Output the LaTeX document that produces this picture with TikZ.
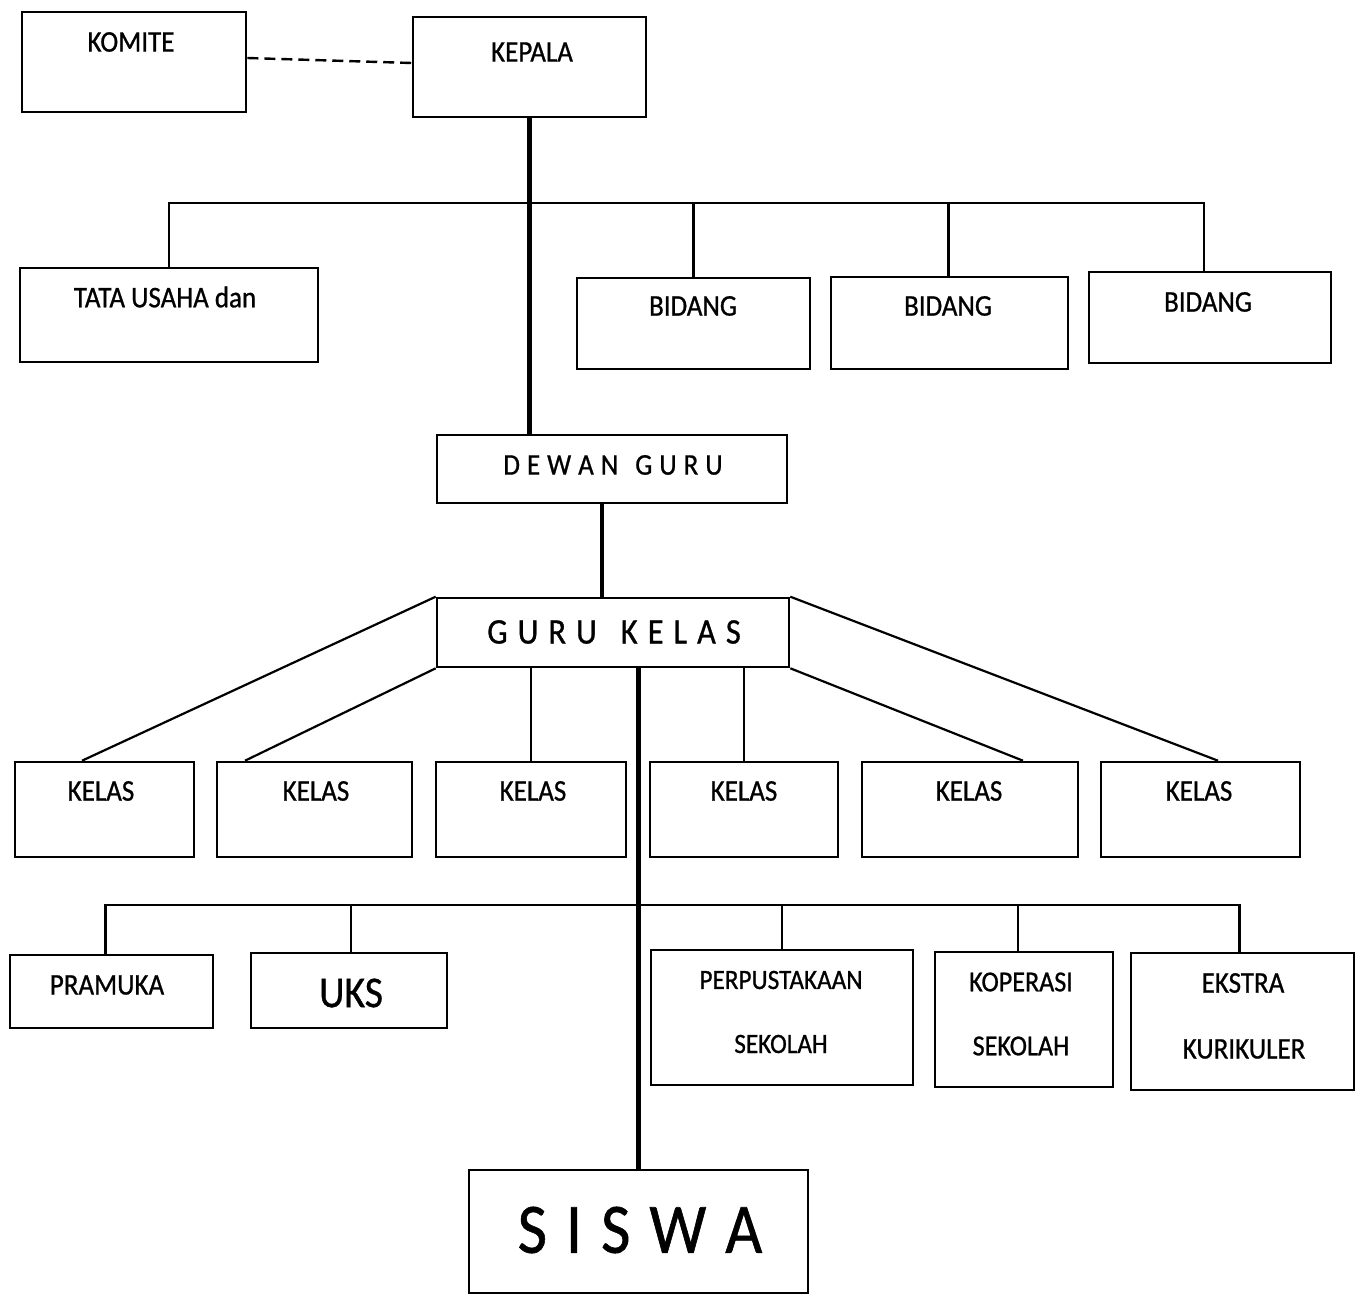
\documentclass[tikz,border=0pt]{standalone}
\usepackage{fontspec}
\setmainfont{Carlito}[FakeStretch=0.9,FakeBold=0.8]
\begin{document}
\begin{tikzpicture}[x=1pt,y=-1pt,
  box/.style={draw,line width=2.6pt,inner sep=0pt},
  conn/.style={line width=2.2pt},
  spine/.style={line width=4.8pt},
  dashline/.style={line width=2.4pt,dash pattern=on 11pt off 6pt},
  txt/.style={inner sep=0pt,font=\fontsize{30}{36}\selectfont}]
\useasboundingbox[fill=white] (0,0) rectangle (1356,1297);

% boxes
\node[box,minimum width=224pt,minimum height=100pt] (komite) at (134,62) {};
\node[box,minimum width=233pt,minimum height=100pt] (kepala) at (529.5,67) {};
\node[box,minimum width=298pt,minimum height=94pt] (tata) at (169,315) {};
\node[box,minimum width=233pt,minimum height=91pt] (bid1) at (693.5,323.5) {};
\node[box,minimum width=237pt,minimum height=92pt] (bid2) at (949.5,323) {};
\node[box,minimum width=242pt,minimum height=91pt] (bid3) at (1210,317.5) {};
\node[box,minimum width=350pt,minimum height=68pt] (dewan) at (612,469) {};
\node[box,minimum width=352pt,minimum height=69pt] (gk) at (613,632.5) {};
\node[box,minimum width=179pt,minimum height=95pt] (kelas1) at (104.5,809.5) {};
\node[box,minimum width=195pt,minimum height=95pt] (kelas2) at (314.5,809.5) {};
\node[box,minimum width=190pt,minimum height=95pt] (kelas3) at (531,809.5) {};
\node[box,minimum width=188pt,minimum height=95pt] (kelas4) at (744,809.5) {};
\node[box,minimum width=216pt,minimum height=95pt] (kelas5) at (970,809.5) {};
\node[box,minimum width=199pt,minimum height=95pt] (kelas6) at (1200.5,809.5) {};
\node[box,minimum width=203pt,minimum height=73pt] (pramuka) at (111.5,991.5) {};
\node[box,minimum width=196pt,minimum height=75pt] (uks) at (349,990.5) {};
\node[box,minimum width=262pt,minimum height=135pt] (perp) at (782,1017.5) {};
\node[box,minimum width=178pt,minimum height=135pt] (kop) at (1024,1019.5) {};
\node[box,minimum width=223pt,minimum height=137pt] (ekstra) at (1242.5,1021.5) {};
\node[box,minimum width=339pt,minimum height=123pt] (siswa) at (638.5,1231.5) {};

% texts
\node[txt] (t-komite) at (131,42) {KOMITE};
\node[txt] (t-kepala) at (532,52) {KEPALA};
\node[txt] (t-tata) at (165,297) {TATA USAHA dan};
\node[txt] (t-bid1) at (693,306) {BIDANG};
\node[txt] (t-bid2) at (948,306) {BIDANG};
\node[txt] (t-bid3) at (1208,302) {BIDANG};
\node[txt] (t-dewan) at (613,465) {D\kern7pt E\kern7pt W\kern7pt A\kern7pt N\kern17pt G\kern7pt U\kern7pt R\kern7pt U};
\node[txt,font=\fontsize{36}{42}\selectfont] (t-gk) at (614,632) {G\kern10pt U\kern10pt R\kern10pt U\kern24pt K\kern10pt E\kern10pt L\kern10pt A\kern10pt S};
\node[txt] (t-k1) at (101,791) {KELAS};
\node[txt] (t-k2) at (316,791) {KELAS};
\node[txt] (t-k3) at (533,791) {KELAS};
\node[txt] (t-k4) at (744,791) {KELAS};
\node[txt] (t-k5) at (969,791) {KELAS};
\node[txt] (t-k6) at (1199,791) {KELAS};
\node[txt] (t-pramuka) at (107,985) {PRAMUKA};
\node[txt,font=\fontsize{44}{50}\selectfont] (t-uks) at (351,993) {UKS};
\node[txt,font=\fontsize{28}{34}\selectfont] (t-perp1) at (781,980) {PERPUSTAKAAN};
\node[txt,font=\fontsize{28}{34}\selectfont] (t-perp2) at (781,1044) {SEKOLAH};
\node[txt,font=\fontsize{29}{34}\selectfont] (t-kop1) at (1021,982) {KOPERASI};
\node[txt,font=\fontsize{29}{34}\selectfont] (t-kop2) at (1021,1046) {SEKOLAH};
\node[txt] (t-eks1) at (1243,983) {EKSTRA};
\node[txt] (t-eks2) at (1244,1049) {KURIKULER};
\node[txt,font=\fontsize{71}{80}\selectfont] (t-siswa) at (640,1230) {S\kern19pt I\kern19pt S\kern19pt W\kern19pt A};

% connectors
\draw[dashline] ([yshift=4pt]komite.east) -- ([yshift=4pt]kepala.west);
\coordinate (bus1) at (0,203);
\coordinate (bus2) at (0,905);
\draw[spine] (kepala.south) -- (kepala.south |- dewan.north);
\draw[conn] (tata.north) -- (tata.north |- bus1) -| ([xshift=-6pt]bid3.north);
\draw[conn] (bid1.north) -- (bid1.north |- bus1);
\draw[conn] ([xshift=-1pt]bid2.north) -- ([xshift=-1pt]bid2.north |- bus1);
\draw[spine] ([xshift=-10pt]dewan.south) -- ([xshift=-10pt]dewan.south |- gk.north);
\draw[conn] (gk.north west) -- ([xshift=-22.5pt]kelas1.north);
\draw[conn] (gk.south west) -- ([xshift=-69.5pt]kelas2.north);
\draw[conn] (kelas3.north |- gk.south) -- (kelas3.north);
\draw[conn] (kelas4.north |- gk.south) -- (kelas4.north);
\draw[conn] (gk.south east) -- ([xshift=53pt]kelas5.north);
\draw[conn] (gk.north east) -- ([xshift=17.5pt]kelas6.north);
\draw[spine] (siswa.north |- gk.south) -- (siswa.north);
\draw[conn] ([xshift=-6pt]pramuka.north) -- ([xshift=-6pt]pramuka.north |- bus2) -| ([xshift=-3pt]ekstra.north);
\draw[conn] ([xshift=2pt]uks.north) -- ([xshift=2pt]uks.north |- bus2);
\draw[conn] (perp.north) -- (perp.north |- bus2);
\draw[conn] ([xshift=-6pt]kop.north) -- ([xshift=-6pt]kop.north |- bus2);
\end{tikzpicture}
\end{document}
